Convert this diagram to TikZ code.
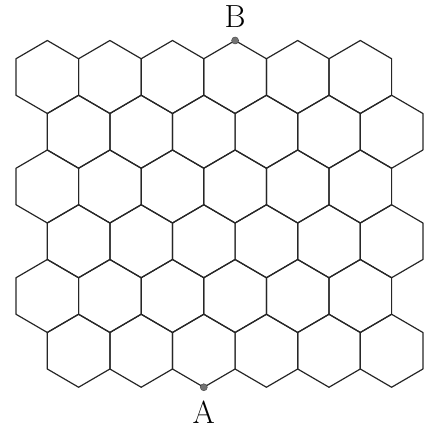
\documentclass[tikz,border=0pt]{standalone}
\begin{document}
\begin{tikzpicture}[x=1pt,y=1pt,
  hexline/.style={draw=black!85, line width=1.2pt, line join=round},
  dotmark/.style={circle, fill=black!55, draw=black!70, line width=0.5pt, inner sep=0pt, minimum size=7pt},
  lab/.style={font=\fontsize{32}{38}\selectfont, inner sep=0pt}]
\useasboundingbox (0,0) rectangle (434,430);
\foreach \r in {0,...,5}{
  \foreach \c in {0,...,5}{
    \pgfmathsetmacro\cx{47.3+62.6*\c+31.3*mod(\r,2)}
    \pgfmathsetmacro\cy{430-77-54.75*\r}
    \draw[hexline] (\cx,\cy+36.5) -- (\cx+31.3,\cy+18.25) -- (\cx+31.3,\cy-18.25)
      -- (\cx,\cy-36.5) -- (\cx-31.3,\cy-18.25) -- (\cx-31.3,\cy+18.25) -- cycle;
  }
}
\node[dotmark] (B) at (235.1,389.5) {};
\node[dotmark] (A) at (203.8,42.75) {};
\node[lab] (Blab) at (235.1,413) {B};
\node[lab] (Alab) at (203.8,18) {A};
\end{tikzpicture}
\end{document}
